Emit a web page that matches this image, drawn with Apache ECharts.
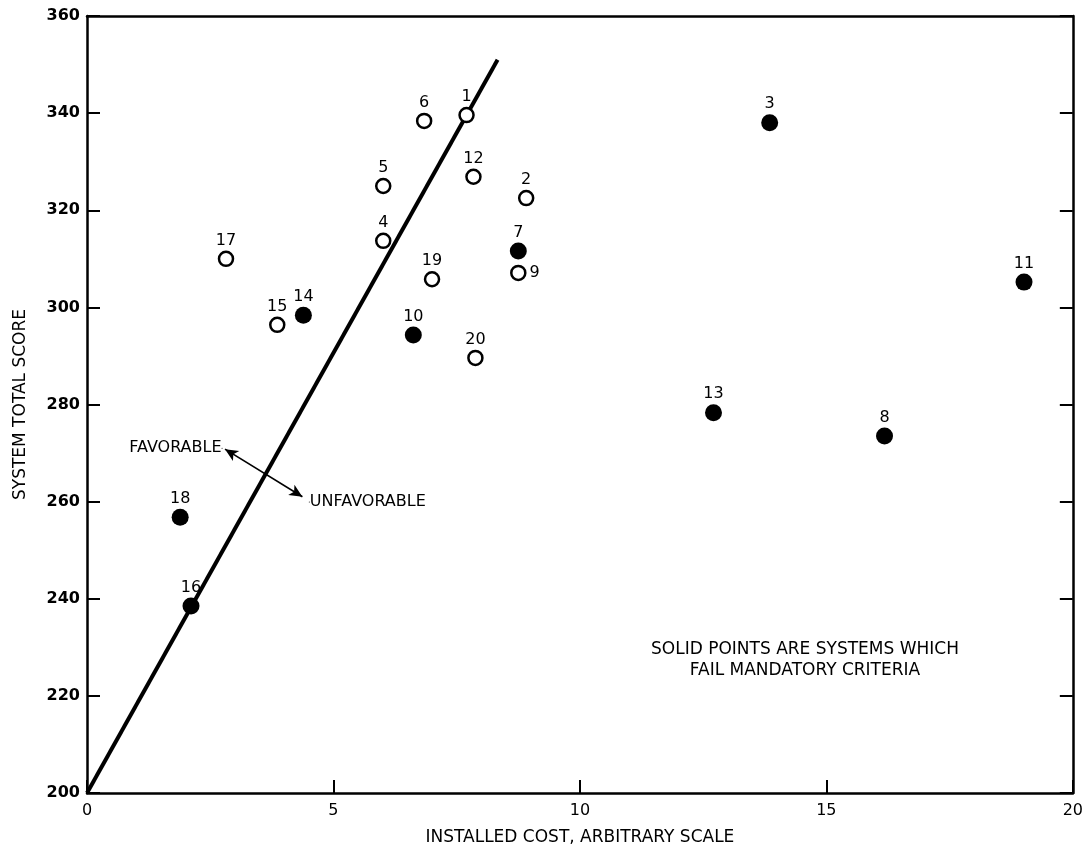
<!DOCTYPE html>
<html>
<head>
<meta charset="utf-8">
<script src="https://cdn.jsdelivr.net/npm/echarts@6/dist/echarts.min.js"></script>
<style>html,body{margin:0;padding:0;background:#fff}#c{width:1086px;height:855px}</style>
</head>
<body>
<div id="c"></div>
<script>
// Systems that pass mandatory criteria (open circles)
const openIds = ['1','6','12','5','2','4','17','19','9','15','20'];
const openCost = [7.70, 6.84, 7.84, 6.01, 8.91, 6.01, 2.82, 7.00, 8.75, 3.86, 7.88];
const openScore = [339.6, 338.4, 326.9, 325.0, 322.5, 313.7, 310.0, 305.8, 307.1, 296.4, 289.6];

// Systems that fail mandatory criteria (solid points)
const solidIds = ['3','7','14','10','18','16','11','13','8'];
const solidCost = [13.85, 8.75, 4.39, 6.62, 1.89, 2.11, 19.01, 12.71, 16.18];
const solidScore = [338.0, 311.6, 298.4, 294.3, 256.8, 238.5, 305.2, 278.3, 273.5];

// Trade-off line
const lineCost = [0, 8.33];
const lineScore = [200, 351];

// Favorable / unfavorable arrow
const arrowCost = [2.80, 4.37];
const arrowScore = [270.8, 261.0];
const favLabels = ['FAVORABLE', 'UNFAVORABLE'];
const favCost = [2.74, 4.51];
const favScore = [271.0, 259.9];

const xTicks = [0, 5, 10, 15, 20];
const yTicks = [200, 220, 240, 260, 280, 300, 320, 340, 360];

const FONT = 'DejaVu Sans';

function pts(ids, xs, ys) {
  return ids.map((id, i) => {
    const d = { name: id, value: [xs[i], ys[i]] };
    if (id === '9') d.label = { position: 'right', distance: 3, color: '#000' };
    return d;
  });
}

const numLabel = {
  show: true, position: 'top', distance: 2,
  formatter: p => p.name,
  fontFamily: FONT, fontSize: 16, color: '#000'
};

const chart = echarts.init(document.getElementById('c'), null, { renderer: 'canvas' });
chart.setOption({
  animation: false,
  backgroundColor: '#fff',
  grid: { left: 87, right: 13, top: 16, bottom: 62 },
  xAxis: [{
    type: 'value', position: 'bottom',
    min: xTicks[0], max: xTicks[xTicks.length - 1], interval: 5,
    name: 'INSTALLED COST, ARBITRARY SCALE', nameLocation: 'middle', nameGap: 36,
    nameTextStyle: { fontFamily: FONT, fontSize: 17, color: '#000' },
    axisLine: { onZero: false, lineStyle: { color: '#000', width: 2.5 } },
    axisTick: { inside: true, length: 13, lineStyle: { color: '#000', width: 2 } },
    axisLabel: { margin: 10, fontFamily: FONT, fontSize: 16, color: '#000' },
    splitLine: { show: false }
  }, {
    type: 'value', position: 'top',
    min: xTicks[0], max: xTicks[xTicks.length - 1],
    axisLine: { onZero: false, lineStyle: { color: '#000', width: 2.5 } },
    axisTick: { show: false }, axisLabel: { show: false }, splitLine: { show: false }
  }],
  yAxis: [{
    type: 'value', position: 'left',
    min: yTicks[0], max: yTicks[yTicks.length - 1], interval: 20,
    name: 'SYSTEM TOTAL SCORE', nameLocation: 'middle', nameGap: 58,
    nameTextStyle: { fontFamily: FONT, fontSize: 17, color: '#000' },
    axisLine: { onZero: false, lineStyle: { color: '#000', width: 2.5 } },
    axisTick: { inside: true, length: 13, lineStyle: { color: '#000', width: 2 } },
    axisLabel: { margin: 7, fontFamily: FONT, fontSize: 16, fontWeight: 'bold', color: '#000' },
    splitLine: { show: false }
  }, {
    type: 'value', position: 'right',
    min: yTicks[0], max: yTicks[yTicks.length - 1], interval: 20,
    axisLine: { onZero: false, lineStyle: { color: '#000', width: 2.5 } },
    axisTick: { inside: true, length: 13, lineStyle: { color: '#000', width: 2 } },
    axisLabel: { show: false }, splitLine: { show: false }
  }],
  series: [{
    type: 'line', z: 2, silent: true,
    data: lineCost.map((c, i) => [c, lineScore[i]]),
    symbol: 'none',
    lineStyle: { color: '#000', width: 4 },
    markLine: {
      silent: true, animation: false,
      symbol: ['arrow', 'arrow'], symbolSize: [9, 13],
      label: { show: false },
      lineStyle: { color: '#000', width: 1.6, type: 'solid' },
      data: [[{ coord: [arrowCost[0], arrowScore[0]] }, { coord: [arrowCost[1], arrowScore[1]] }]]
    }
  }, {
    type: 'scatter', z: 5, silent: true,
    data: pts(openIds, openCost, openScore),
    symbol: 'circle', symbolSize: 14,
    itemStyle: { color: '#fff', borderColor: '#000', borderWidth: 2.5, opacity: 1 },
    label: numLabel
  }, {
    type: 'scatter', z: 5, silent: true,
    data: pts(solidIds, solidCost, solidScore),
    symbol: 'circle', symbolSize: 17,
    itemStyle: { color: '#000', opacity: 1 },
    label: numLabel
  }, {
    type: 'scatter', z: 4, silent: true,
    data: favLabels.map((t, i) => ({
      name: t, value: [favCost[i], favScore[i]],
      label: { position: i === 0 ? 'left' : 'right', color: '#000' }
    })),
    symbolSize: 1,
    itemStyle: { color: '#000', opacity: 1 },
    label: { show: true, distance: 0, formatter: p => p.name, fontFamily: FONT, fontSize: 16, color: '#000', opacity: 1 }
  }],
  graphic: [{
    type: 'text', x: 805, y: 660, silent: true,
    style: {
      text: 'SOLID POINTS ARE SYSTEMS WHICH\nFAIL MANDATORY CRITERIA',
      align: 'center', verticalAlign: 'middle',
      font: '17px "DejaVu Sans"', lineHeight: 21, fill: '#000'
    }
  }]
});
</script>
</body>
</html>
